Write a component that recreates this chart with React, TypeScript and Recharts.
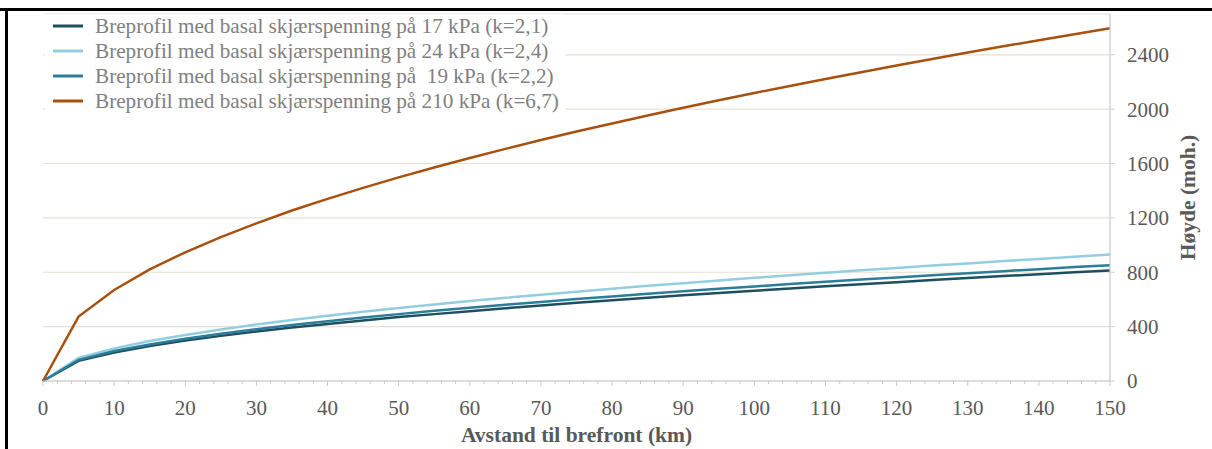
import React from 'react';
import { LineChart, Line, XAxis, YAxis, CartesianGrid, Legend, Label } from 'recharts';

const FONT = '"Liberation Serif", "Times New Roman", serif';

const distanceKm = [0, 5, 10, 15, 20, 25, 30, 35, 40, 45, 50, 55, 60, 65, 70, 75, 80, 85, 90, 95, 100, 105, 110, 115, 120, 125, 130, 135, 140, 145, 150];
const profile17 = [0, 148, 210, 257, 297, 332, 364, 393, 420, 445, 470, 492, 514, 535, 556, 575, 594, 612, 630, 647, 664, 680, 697, 712, 727, 743, 757, 772, 786, 800, 813];
const profile24 = [0, 170, 240, 294, 339, 379, 416, 449, 480, 509, 537, 563, 588, 612, 635, 657, 679, 700, 720, 740, 759, 778, 796, 814, 831, 849, 865, 882, 898, 914, 930];
const profile19 = [0, 156, 220, 269, 311, 348, 381, 412, 440, 467, 492, 516, 539, 561, 582, 603, 622, 641, 660, 678, 696, 713, 730, 746, 762, 778, 793, 808, 823, 838, 852];
const profile210 = [0, 474, 670, 821, 947, 1059, 1160, 1254, 1340, 1421, 1498, 1571, 1641, 1708, 1773, 1835, 1895, 1953, 2010, 2065, 2119, 2171, 2222, 2272, 2321, 2369, 2416, 2462, 2507, 2551, 2595];

const seriesNames = [
  'Breprofil med basal skjærspenning på 17 kPa (k=2,1)',
  'Breprofil med basal skjærspenning på 24 kPa (k=2,4)',
  'Breprofil med basal skjærspenning på  19 kPa (k=2,2)',
  'Breprofil med basal skjærspenning på 210 kPa (k=6,7)',
];
const seriesColors = ['#1e4f5e', '#93cee0', '#2b7d99', '#a8510f'];

const xTicks = [0, 2, 4, 6, 8, 10, 12, 14, 16, 18, 20, 22, 24, 26, 28, 30, 32, 34, 36, 38, 40, 42, 44, 46, 48, 50, 52, 54, 56, 58, 60, 62, 64, 66, 68, 70, 72, 74, 76, 78, 80, 82, 84, 86, 88, 90, 92, 94, 96, 98, 100, 102, 104, 106, 108, 110, 112, 114, 116, 118, 120, 122, 124, 126, 128, 130, 132, 134, 136, 138, 140, 142, 144, 146, 148, 150];
const yTicks = [0, 400, 800, 1200, 1600, 2000, 2400];

const xTitle = 'Avstand til brefront (km)';
const yTitle = 'Høyde (moh.)';

const data = distanceKm.map((d, i) => ({
  d,
  s17: profile17[i],
  s24: profile24[i],
  s19: profile19[i],
  s210: profile210[i],
}));

const XTick = (props: any) => {
  const { x, y, payload } = props;
  const major = payload.value % 10 === 0;
  return (
    <g>
      <line x1={x} x2={x} y1={y} y2={y + (major ? 5 : 3)} stroke="#c8c8c8" strokeWidth={1} />
      {major && (
        <text x={x} y={y + 26} dy="0.36em" textAnchor="middle" fill="#595959" fontSize={21} fontFamily={FONT}>
          {payload.value}
        </text>
      )}
    </g>
  );
};

const LegendContent = () => {
  return (
    <div style={{ background: '#fff', paddingLeft: 8, fontFamily: FONT, textAlign: 'left' }}>
      {seriesNames.map((name, i) => (
        <div key={i} style={{ height: 24.8, display: 'flex', alignItems: 'center', justifyContent: 'flex-start' }}>
          <svg width={30} height={6} style={{ display: 'block', marginRight: 12, flexShrink: 0 }}>
            <line x1={0} x2={30} y1={3} y2={3} stroke={seriesColors[i]} strokeWidth={3} />
          </svg>
          <span style={{ fontSize: 21.2, color: '#808080', whiteSpace: 'pre', lineHeight: '24px', flexShrink: 0 }}>{name}</span>
        </div>
      ))}
    </div>
  );
};

export default function App() {
  return (
    <div style={{ position: 'absolute', left: 0, top: 0, width: 1212, height: 449, background: '#fff', overflow: 'hidden' }}>
      <LineChart
        width={1212}
        height={449}
        data={data}
        margin={{ top: 14, right: 0, bottom: 0, left: 43 }}
        style={{ fontFamily: FONT }}
      >
        <CartesianGrid vertical={false} stroke="#e6e1d3" strokeWidth={1.2} />
        <XAxis
          dataKey="d"
          type="number"
          domain={[0, 150]}
          ticks={xTicks}
          interval={0}
          tickSize={0}
          tickMargin={0}
          tickLine={false}
          axisLine={{ stroke: '#c8c8c8', strokeWidth: 1.2 }}
          height={68}
          tick={<XTick />}
        >
          <Label
            content={(p: any) => {
              const vb = p.viewBox || {};
              return (
                <text x={vb.x + vb.width / 2} y={vb.y + 61} textAnchor="middle" fill="#595959" fontSize={21.5} fontWeight="bold" fontFamily={FONT}>
                  {xTitle}
                </text>
              );
            }}
          />
        </XAxis>
        <YAxis
          orientation="right"
          type="number"
          domain={[0, 2700]}
          ticks={yTicks}
          interval={0}
          width={102}
          tickSize={5}
          tickMargin={12}
          axisLine={{ stroke: '#c8c8c8', strokeWidth: 1.2 }}
          tickLine={{ stroke: '#d6d1c4' }}
          tick={{ fill: '#595959', fontSize: 21, fontFamily: FONT }}
        >
          <Label
            content={(p: any) => {
              const vb = p.viewBox || {};
              const cx = vb.x + 77;
              const cy = vb.y + vb.height / 2;
              return (
                <text x={0} y={0} transform={`translate(${cx},${cy}) rotate(-90)`} dy="0.35em" textAnchor="middle" fill="#595959" fontSize={21.5} fontWeight="bold" fontFamily={FONT}>
                  {yTitle}
                </text>
              );
            }}
          />
        </YAxis>
        <Legend
          layout="vertical"
          align="center"
          verticalAlign="middle"
          content={<LegendContent />}
          wrapperStyle={{ left: 45, top: 14, width: 520, height: 101, background: '#fff' }}
        />
        <Line type="linear" dataKey="s17" name={seriesNames[0]} stroke={seriesColors[0]} strokeWidth={2.5} dot={false} isAnimationActive={false} />
        <Line type="linear" dataKey="s24" name={seriesNames[1]} stroke={seriesColors[1]} strokeWidth={2.5} dot={false} isAnimationActive={false} />
        <Line type="linear" dataKey="s19" name={seriesNames[2]} stroke={seriesColors[2]} strokeWidth={2.5} dot={false} isAnimationActive={false} />
        <Line type="linear" dataKey="s210" name={seriesNames[3]} stroke={seriesColors[3]} strokeWidth={2.5} dot={false} isAnimationActive={false} />
      </LineChart>
      <div style={{ position: 'absolute', left: 0, top: 8, width: 1212, height: 3, background: '#000' }} />
      <div style={{ position: 'absolute', left: 5, top: 8, width: 3, height: 441, background: '#000' }} />
    </div>
  );
}
